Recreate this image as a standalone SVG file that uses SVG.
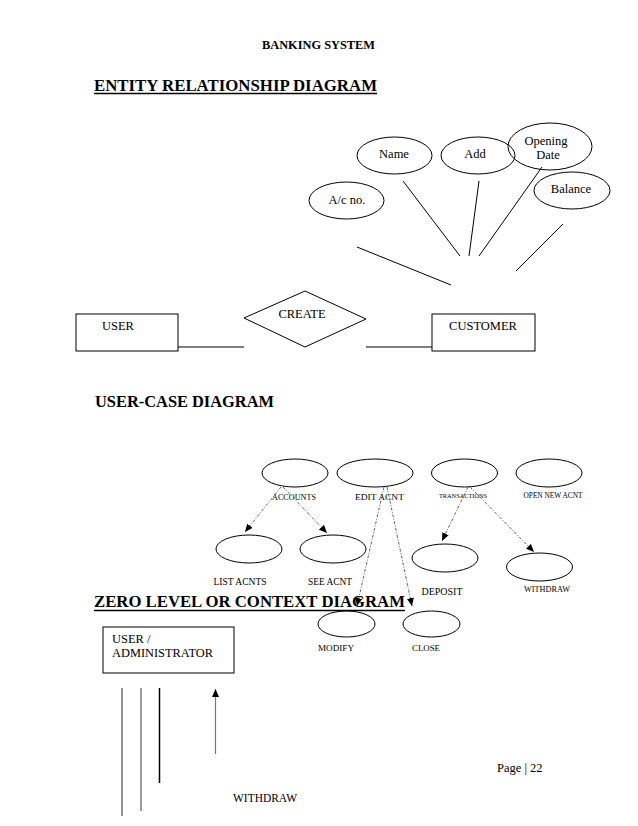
<svg xmlns="http://www.w3.org/2000/svg" width="638" height="826" viewBox="0 0 638 826">
<style>
text{font-family:"Liberation Serif","Times New Roman",serif;fill:#000}
.h{font-weight:bold;font-size:16.5px}
.t{font-weight:bold;font-size:12px}
.l{font-size:12.5px}
.m{text-anchor:middle}
.sh{fill:none;stroke:#000;stroke-width:1}
.er{stroke:#000;stroke-width:1;fill:none}
.dash{stroke:#555;stroke-width:0.9;stroke-dasharray:3 1.5 1 1.5;fill:none}
</style>
<defs>
<marker id="ah" markerUnits="userSpaceOnUse" markerWidth="8" markerHeight="7" refX="8" refY="3.5" orient="auto">
<path d="M0,0 L8,3.5 L0,7 z" fill="#000"/>
</marker>
</defs>
<rect width="638" height="826" fill="#fff"/>

<g id="titles">
<text class="t" x="262" y="49" textLength="113" lengthAdjust="spacingAndGlyphs">BANKING SYSTEM</text>
<text class="h" x="94" y="91" textLength="283" lengthAdjust="spacingAndGlyphs">ENTITY RELATIONSHIP DIAGRAM</text>
<line x1="94" y1="93.5" x2="377" y2="93.5" stroke="#000" stroke-width="1.5"/>
<text class="h" x="95" y="407" textLength="179" lengthAdjust="spacingAndGlyphs">USER-CASE DIAGRAM</text>
<text class="h" x="94" y="607" textLength="311" lengthAdjust="spacingAndGlyphs">ZERO LEVEL OR CONTEXT DIAGRAM</text>
<line x1="94" y1="610.5" x2="405" y2="610.5" stroke="#000" stroke-width="1.5"/>
<text class="l" x="497" y="772" font-size="12px">Page | 22</text>
</g>

<g id="er-attr-name"><ellipse class="sh" cx="394.5" cy="155.5" rx="37.5" ry="18.5"/><text class="l m" x="394" y="158">Name</text></g>
<g id="er-attr-add"><ellipse class="sh" cx="478" cy="155.5" rx="37" ry="18.5"/><text class="l m" x="475" y="158">Add</text></g>
<g id="er-attr-opening"><ellipse class="sh" cx="550" cy="146.5" rx="42" ry="23.5"/><text class="l m" x="546" y="145">Opening</text><text class="l m" x="548" y="159">Date</text></g>
<g id="er-attr-balance"><ellipse class="sh" cx="572" cy="190.5" rx="38" ry="18.5"/><text class="l m" x="571" y="193">Balance</text></g>
<g id="er-attr-acno"><ellipse class="sh" cx="346.5" cy="200.5" rx="37.5" ry="18.5"/><text class="l m" x="347" y="204">A/c no.</text></g>
<g id="er-user"><rect class="sh" x="76" y="314" width="102" height="37"/><text class="l" x="102" y="329.5" font-size="12px">USER</text></g>
<g id="er-create"><polygon class="sh" points="244,318 305,291 366,319 305,347"/><text class="l m" x="302" y="318">CREATE</text></g>
<g id="er-customer"><rect class="sh" x="432" y="314" width="103" height="37"/><text class="l m" x="483" y="330">CUSTOMER</text></g>

<g id="uc-accounts"><ellipse class="sh" cx="295" cy="473" rx="33" ry="14"/><text class="m" x="294" y="500" font-size="8px" textLength="44" lengthAdjust="spacingAndGlyphs">ACCOUNTS</text></g>
<g id="uc-edit"><ellipse class="sh" cx="375" cy="473" rx="38" ry="14"/><text class="m" x="379.5" y="500" font-size="9px" textLength="49" lengthAdjust="spacingAndGlyphs">EDIT ACNT</text></g>
<g id="uc-trans"><ellipse class="sh" cx="464.5" cy="473" rx="33" ry="14"/><text class="m" x="463" y="498" font-size="6.5px" textLength="48" lengthAdjust="spacingAndGlyphs">TRANSACTIONS</text></g>
<g id="uc-open"><ellipse class="sh" cx="549" cy="473" rx="33" ry="14"/><text class="m" x="553" y="498" font-size="7.3px" textLength="59" lengthAdjust="spacingAndGlyphs">OPEN NEW ACNT</text></g>
<g id="uc-list"><ellipse class="sh" cx="249" cy="549" rx="33" ry="14"/><text class="m" x="240" y="585" font-size="9.4px" textLength="53" lengthAdjust="spacingAndGlyphs">LIST ACNTS</text></g>
<g id="uc-see"><ellipse class="sh" cx="333" cy="549" rx="33" ry="14"/><text class="m" x="330" y="585" font-size="9.3px" textLength="44" lengthAdjust="spacingAndGlyphs">SEE ACNT</text></g>
<g id="uc-deposit"><ellipse class="sh" cx="445" cy="558" rx="33" ry="14"/><text class="m" x="442" y="595" font-size="10px" textLength="41" lengthAdjust="spacingAndGlyphs">DEPOSIT</text></g>
<g id="uc-withdraw"><ellipse class="sh" cx="539.5" cy="567" rx="33" ry="14"/><text class="m" x="547" y="592" font-size="8.2px" textLength="46" lengthAdjust="spacingAndGlyphs">WITHDRAW</text></g>
<g id="uc-modify"><ellipse class="sh" cx="346.5" cy="624" rx="28.5" ry="13"/><text class="m" x="336" y="651" font-size="9px" textLength="36" lengthAdjust="spacingAndGlyphs">MODIFY</text></g>
<g id="uc-close"><ellipse class="sh" cx="431.5" cy="624" rx="28.5" ry="13"/><text class="m" x="426" y="651" font-size="9px" textLength="28" lengthAdjust="spacingAndGlyphs">CLOSE</text></g>

<g id="ctx-admin"><rect class="sh" x="103" y="627" width="131" height="46"/><text class="l" x="112" y="643" font-size="12px">USER /</text><text class="l" x="112" y="657" font-size="12px" textLength="101" lengthAdjust="spacingAndGlyphs">ADMINISTRATOR</text></g>
<g id="ctx-label"><text class="l" x="233" y="802" font-size="11.3px" textLength="64" lengthAdjust="spacingAndGlyphs">WITHDRAW</text></g>

<g id="connectors">
<line class="er" x1="357" y1="247" x2="451" y2="285"/>
<line class="er" x1="403" y1="181" x2="460" y2="256"/>
<line class="er" x1="479" y1="181" x2="469" y2="256"/>
<line class="er" x1="542" y1="167" x2="479" y2="256"/>
<line class="er" x1="563" y1="224" x2="516" y2="271"/>
<line class="er" x1="178" y1="347" x2="244" y2="347" stroke="#444"/>
<line class="er" x1="366" y1="347" x2="432" y2="347" stroke="#444"/>

<line class="dash" x1="281" y1="487" x2="245" y2="532" marker-end="url(#ah)"/>
<line class="dash" x1="283" y1="487" x2="327" y2="533" marker-end="url(#ah)"/>
<line class="dash" x1="384" y1="487" x2="357" y2="606" marker-end="url(#ah)"/>
<line class="dash" x1="387" y1="487" x2="412" y2="606" marker-end="url(#ah)"/>
<line class="dash" x1="468" y1="487" x2="442" y2="541" marker-end="url(#ah)"/>
<line class="dash" x1="470" y1="487" x2="534" y2="552" marker-end="url(#ah)"/>

<line x1="122" y1="688" x2="122" y2="816" stroke="#777" stroke-width="1.6"/>
<line x1="141" y1="688" x2="141" y2="811" stroke="#666" stroke-width="1.3"/>
<line x1="159.5" y1="688" x2="159.5" y2="783" stroke="#000" stroke-width="1.5"/>
<line x1="215.5" y1="754" x2="215.5" y2="689" stroke="#777" stroke-width="1.2" marker-end="url(#ah)"/>
</g>
</svg>
